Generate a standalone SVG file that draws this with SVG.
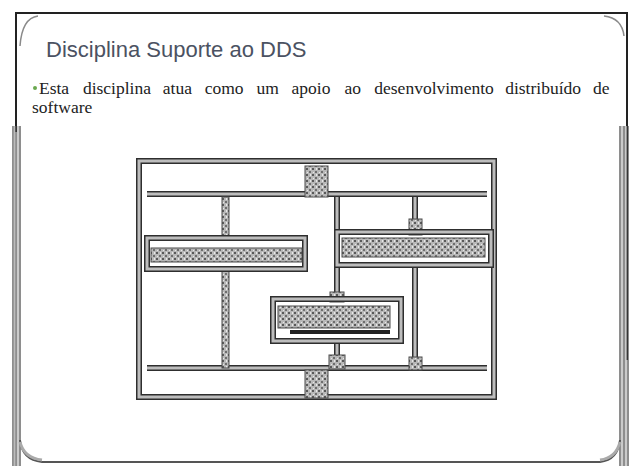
<svg xmlns="http://www.w3.org/2000/svg" width="632" height="466" viewBox="0 0 632 466">
<defs>
<pattern id="tex" width="6" height="6" patternUnits="userSpaceOnUse">
<rect width="6" height="6" fill="#b8b8b8"/>
<rect x="0" y="0" width="2" height="2" fill="#5a5a5a"/>
<rect x="3" y="3" width="2" height="2" fill="#6e6e6e"/>
<rect x="4" y="0" width="1" height="2" fill="#e8e8e8"/>
<rect x="1" y="4" width="1" height="1" fill="#e8e8e8"/>
</pattern>
</defs>
<style>
.pipeo{fill:none;stroke:#2e2e2e;stroke-width:6}
.pipei{fill:none;stroke:#bdbdbd;stroke-width:3}
.tex{fill:url(#tex);stroke:#4a4a4a;stroke-width:1}
.frame{fill:none;stroke:#222;stroke-width:2}
.frame2{fill:none;stroke:#8a8a8a;stroke-width:1.5}
.title{font-family:"Liberation Sans",Arial,sans-serif;font-size:22px;fill:#4b5262}
.body{font-family:"Liberation Serif","Times New Roman",serif;font-size:17.5px;fill:#222}
</style>
<rect width="632" height="466" fill="#fff"/>
<g id="slide-frame">
<path class="frame" d="M16 132 V13 H627 V360"/>
<path class="frame2" d="M20 46 Q22 18 38 16 M604 16 Q622 18 624 36"/>
<path d="M13 126 V466 M16 126 V466 M20 126 V466" stroke="#444" stroke-width="1.2" fill="none"/>
<path d="M14.5 126 V466 M18 126 V466" stroke="#bbb" stroke-width="1.5" fill="none"/>
<path d="M620 126 V466 M624 126 V466 M628 126 V466" stroke="#444" stroke-width="1.2" fill="none"/>
<path d="M622 126 V466 M626 126 V466" stroke="#bbb" stroke-width="1.5" fill="none"/>
<path d="M20 440 Q22 460 42 462 H600 Q618 460 620 440" fill="none" stroke="#555" stroke-width="2"/>
<path d="M20 442 Q24 458 42 460" fill="none" stroke="#aaa" stroke-width="3"/>
<path d="M620 442 Q616 458 600 460" fill="none" stroke="#aaa" stroke-width="3"/>
</g>
<g id="title">
<text class="title" x="46" y="57">Disciplina Suporte ao DDS</text>
</g>
<g id="bullet">
<circle cx="35" cy="88" r="2" fill="#6aa84f"/>
<text class="body" y="94"><tspan x="39">Esta</tspan><tspan x="82.9">disciplina</tspan><tspan x="162.8">atua</tspan><tspan x="204.7">como</tspan><tspan x="256.6">um</tspan><tspan x="291.5">apoio</tspan><tspan x="344.4">ao</tspan><tspan x="374.3">desenvolvimento</tspan><tspan x="505.2">distribuído</tspan><tspan x="593.1">de</tspan></text>
<text class="body" x="32" y="113">software</text>
</g>
<g id="connectors">
<rect class="pipeo" x="139" y="161" width="355" height="236"/>
<rect class="pipei" x="139" y="161" width="355" height="236"/>
<path class="pipeo" d="M147 194 H487 M147 368 H487 M337 197 V298 M415 197 V231 M415 265 V368 M337 342 V368"/>
<path class="pipei" d="M147 194 H487 M147 368 H487 M337 197 V298 M415 197 V231 M415 265 V368 M337 342 V368"/>
<rect class="tex" x="222" y="197" width="7" height="40"/>
<rect class="tex" x="222" y="269" width="7" height="99"/>
<rect class="tex" x="409" y="219" width="13" height="16"/>
<rect class="tex" x="409" y="357" width="13" height="13"/>
<rect class="tex" x="329" y="355" width="16" height="14"/>
<rect class="tex" x="330" y="292" width="14" height="10"/>
</g>
<g id="node-top">
<rect class="tex" x="305" y="166" width="23" height="31"/>
</g>
<g id="node-bottom">
<rect class="tex" x="305" y="370" width="23" height="28"/>
</g>
<g id="node-left">
<rect class="pipeo" x="147" y="238" width="158" height="31"/>
<rect class="pipei" x="147" y="238" width="158" height="31"/>
<rect class="tex" x="151" y="248" width="151" height="14"/>
</g>
<g id="node-right">
<rect class="pipeo" x="337" y="232" width="154" height="33"/>
<rect class="pipei" x="337" y="232" width="154" height="33"/>
<rect class="tex" x="342" y="238" width="143" height="19"/>
</g>
<g id="node-center">
<rect class="pipeo" x="273" y="299" width="128" height="42"/>
<rect class="pipei" x="273" y="299" width="128" height="42"/>
<rect class="tex" x="278" y="306" width="112" height="22"/>
<rect x="290" y="330" width="100" height="4" fill="#222"/>
</g>
</svg>
